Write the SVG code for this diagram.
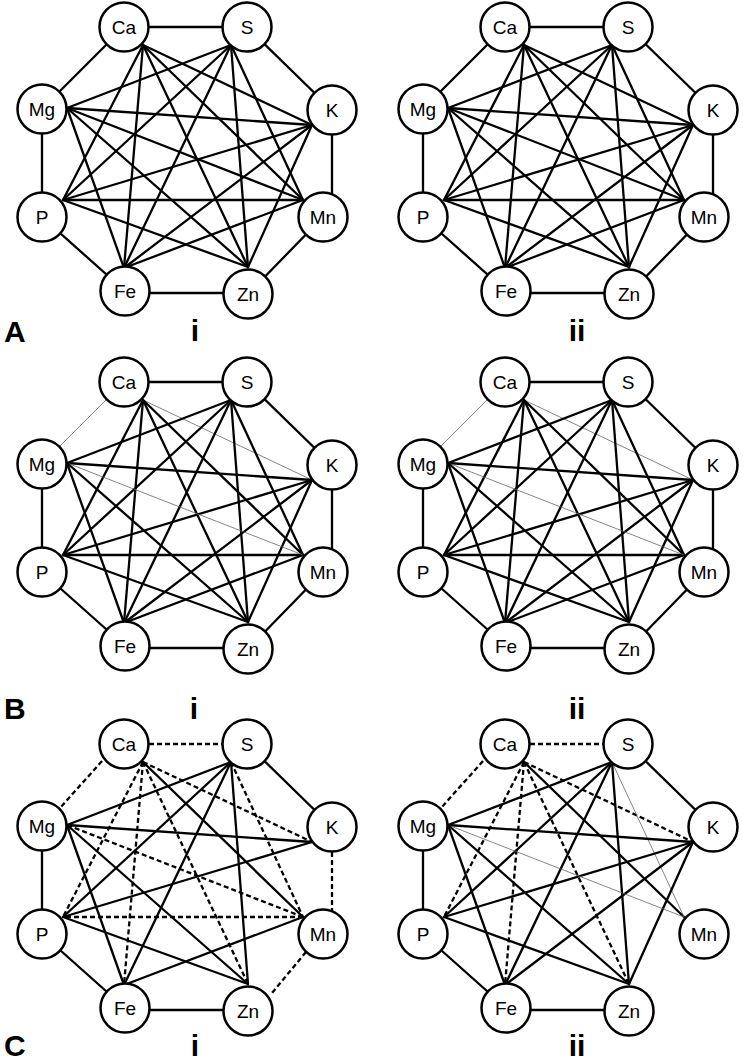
<svg xmlns="http://www.w3.org/2000/svg" width="743" height="1063" viewBox="0 0 743 1063">
<style>
.e{stroke:#000;stroke-width:2.3;fill:none;stroke-linecap:round}
.d{stroke-dasharray:5 3;stroke-linecap:butt}
.t{stroke:#666;stroke-width:0.8}
.n circle{fill:#fff;stroke:#000;stroke-width:2.5}
.n text{font-family:"Liberation Sans",Arial,sans-serif;font-size:19px;text-anchor:middle;fill:#000}
.lab{font-family:"Liberation Sans",Arial,sans-serif;font-weight:bold;font-size:30px;fill:#000}
.c{text-anchor:middle}
</style>
<rect width="743" height="1063" fill="#fff"/>

<!-- ===== A-i ===== -->
<g id="Ai" transform="translate(0,0)">
<g id="Ai-connectors">
<path class="e" d="M124 27L247 27"/><path class="e" d="M247 27L332 110"/><path class="e" d="M332 110L332 217"/><path class="e" d="M323 217L248 294"/><path class="e" d="M248 293L125 293"/><path class="e" d="M125 291L42 217"/><path class="e" d="M42 109L42 217"/><path class="e" d="M42 109L124 27"/>
<path class="e" d="M143 45L312 125"/><path class="e" d="M143 45L303 200"/><path class="e" d="M143 45L248 267"/><path class="e" d="M143 45L124 268"/><path class="e" d="M143 45L63 200"/>
<path class="e" d="M231 45L303 200"/><path class="e" d="M231 45L248 267"/><path class="e" d="M231 45L124 268"/><path class="e" d="M231 45L63 200"/><path class="e" d="M231 45L67 108"/>
<path class="e" d="M312 125L248 267"/><path class="e" d="M312 125L124 268"/><path class="e" d="M312 125L63 200"/><path class="e" d="M312 125L67 108"/>
<path class="e" d="M303 200L124 268"/><path class="e" d="M303 200L63 200"/><path class="e" d="M303 200L67 108"/>
<path class="e" d="M248 267L63 200"/><path class="e" d="M248 267L67 108"/><path class="e" d="M124 268L67 108"/>
</g>
<g id="Ai-Ca" class="n"><circle cx="124" cy="27" r="24.5"/><text x="124" y="34">Ca</text></g>
<g id="Ai-S" class="n"><circle cx="247" cy="27" r="24.5"/><text x="247" y="34">S</text></g>
<g id="Ai-Mg" class="n"><circle cx="42" cy="109" r="24.5"/><text x="42" y="116">Mg</text></g>
<g id="Ai-K" class="n"><circle cx="332" cy="110" r="24.5"/><text x="332" y="117">K</text></g>
<g id="Ai-P" class="n"><circle cx="42" cy="217" r="24.5"/><text x="42" y="224">P</text></g>
<g id="Ai-Mn" class="n"><circle cx="323" cy="217" r="24.5"/><text x="323" y="224">Mn</text></g>
<g id="Ai-Fe" class="n"><circle cx="125" cy="291" r="24.5"/><text x="125" y="298">Fe</text></g>
<g id="Ai-Zn" class="n"><circle cx="248" cy="294" r="24.5"/><text x="248" y="301">Zn</text></g>
</g>

<!-- ===== A-ii ===== -->
<g id="Aii" transform="translate(381,0)">
<g id="Aii-connectors">
<path class="e" d="M124 27L247 27"/><path class="e" d="M247 27L332 110"/><path class="e" d="M332 110L332 217"/><path class="e" d="M323 217L248 294"/><path class="e" d="M248 293L125 293"/><path class="e" d="M125 291L42 217"/><path class="e" d="M42 109L42 217"/><path class="e" d="M42 109L124 27"/>
<path class="e" d="M143 45L312 125"/><path class="e" d="M143 45L303 200"/><path class="e" d="M143 45L248 267"/><path class="e" d="M143 45L124 268"/><path class="e" d="M143 45L63 200"/>
<path class="e" d="M231 45L303 200"/><path class="e" d="M231 45L248 267"/><path class="e" d="M231 45L124 268"/><path class="e" d="M231 45L63 200"/><path class="e" d="M231 45L67 108"/>
<path class="e" d="M312 125L248 267"/><path class="e" d="M312 125L124 268"/><path class="e" d="M312 125L63 200"/><path class="e" d="M312 125L67 108"/>
<path class="e" d="M303 200L124 268"/><path class="e" d="M303 200L63 200"/><path class="e" d="M303 200L67 108"/>
<path class="e" d="M248 267L63 200"/><path class="e" d="M248 267L67 108"/><path class="e" d="M124 268L67 108"/>
</g>
<g id="Aii-Ca" class="n"><circle cx="124" cy="27" r="24.5"/><text x="124" y="34">Ca</text></g>
<g id="Aii-S" class="n"><circle cx="247" cy="27" r="24.5"/><text x="247" y="34">S</text></g>
<g id="Aii-Mg" class="n"><circle cx="42" cy="109" r="24.5"/><text x="42" y="116">Mg</text></g>
<g id="Aii-K" class="n"><circle cx="332" cy="110" r="24.5"/><text x="332" y="117">K</text></g>
<g id="Aii-P" class="n"><circle cx="42" cy="217" r="24.5"/><text x="42" y="224">P</text></g>
<g id="Aii-Mn" class="n"><circle cx="323" cy="217" r="24.5"/><text x="323" y="224">Mn</text></g>
<g id="Aii-Fe" class="n"><circle cx="125" cy="291" r="24.5"/><text x="125" y="298">Fe</text></g>
<g id="Aii-Zn" class="n"><circle cx="248" cy="294" r="24.5"/><text x="248" y="301">Zn</text></g>
</g>

<!-- ===== B-i ===== -->
<g id="Bi" transform="translate(0,355)">
<g id="Bi-connectors">
<path class="e" d="M124 27L247 27"/><path class="e" d="M247 27L332 110"/><path class="e" d="M332 110L332 217"/><path class="e" d="M323 217L248 294"/><path class="e" d="M248 293L125 293"/><path class="e" d="M125 291L42 217"/><path class="e" d="M42 109L42 217"/><path class="e t" d="M42 109L124 27"/>
<path class="e t" d="M143 45L312 125"/><path class="e" d="M143 45L303 200"/><path class="e" d="M143 45L248 267"/><path class="e" d="M143 45L124 268"/><path class="e" d="M143 45L63 200"/>
<path class="e" d="M231 45L303 200"/><path class="e" d="M231 45L248 267"/><path class="e" d="M231 45L124 268"/><path class="e" d="M231 45L63 200"/><path class="e" d="M231 45L67 108"/>
<path class="e" d="M312 125L248 267"/><path class="e" d="M312 125L124 268"/><path class="e" d="M312 125L63 200"/><path class="e" d="M312 125L67 108"/>
<path class="e" d="M303 200L124 268"/><path class="e" d="M303 200L63 200"/><path class="e t" d="M303 200L67 108"/>
<path class="e" d="M248 267L63 200"/><path class="e" d="M248 267L67 108"/><path class="e" d="M124 268L67 108"/>
</g>
<g id="Bi-Ca" class="n"><circle cx="124" cy="27" r="24.5"/><text x="124" y="34">Ca</text></g>
<g id="Bi-S" class="n"><circle cx="247" cy="27" r="24.5"/><text x="247" y="34">S</text></g>
<g id="Bi-Mg" class="n"><circle cx="42" cy="109" r="24.5"/><text x="42" y="116">Mg</text></g>
<g id="Bi-K" class="n"><circle cx="332" cy="110" r="24.5"/><text x="332" y="117">K</text></g>
<g id="Bi-P" class="n"><circle cx="42" cy="217" r="24.5"/><text x="42" y="224">P</text></g>
<g id="Bi-Mn" class="n"><circle cx="323" cy="217" r="24.5"/><text x="323" y="224">Mn</text></g>
<g id="Bi-Fe" class="n"><circle cx="125" cy="291" r="24.5"/><text x="125" y="298">Fe</text></g>
<g id="Bi-Zn" class="n"><circle cx="248" cy="294" r="24.5"/><text x="248" y="301">Zn</text></g>
</g>

<!-- ===== B-ii ===== -->
<g id="Bii" transform="translate(381,355)">
<g id="Bii-connectors">
<path class="e" d="M124 27L247 27"/><path class="e" d="M247 27L332 110"/><path class="e" d="M332 110L332 217"/><path class="e" d="M323 217L248 294"/><path class="e" d="M248 293L125 293"/><path class="e" d="M125 291L42 217"/><path class="e" d="M42 109L42 217"/><path class="e t" d="M42 109L124 27"/>
<path class="e t" d="M143 45L312 125"/><path class="e" d="M143 45L303 200"/><path class="e" d="M143 45L248 267"/><path class="e" d="M143 45L124 268"/><path class="e" d="M143 45L63 200"/>
<path class="e" d="M231 45L303 200"/><path class="e" d="M231 45L248 267"/><path class="e" d="M231 45L124 268"/><path class="e" d="M231 45L63 200"/><path class="e" d="M231 45L67 108"/>
<path class="e" d="M312 125L248 267"/><path class="e" d="M312 125L124 268"/><path class="e" d="M312 125L63 200"/><path class="e" d="M312 125L67 108"/>
<path class="e" d="M303 200L124 268"/><path class="e" d="M303 200L63 200"/><path class="e t" d="M303 200L67 108"/>
<path class="e" d="M248 267L63 200"/><path class="e" d="M248 267L67 108"/><path class="e" d="M124 268L67 108"/>
</g>
<g id="Bii-Ca" class="n"><circle cx="124" cy="27" r="24.5"/><text x="124" y="34">Ca</text></g>
<g id="Bii-S" class="n"><circle cx="247" cy="27" r="24.5"/><text x="247" y="34">S</text></g>
<g id="Bii-Mg" class="n"><circle cx="42" cy="109" r="24.5"/><text x="42" y="116">Mg</text></g>
<g id="Bii-K" class="n"><circle cx="332" cy="110" r="24.5"/><text x="332" y="117">K</text></g>
<g id="Bii-P" class="n"><circle cx="42" cy="217" r="24.5"/><text x="42" y="224">P</text></g>
<g id="Bii-Mn" class="n"><circle cx="323" cy="217" r="24.5"/><text x="323" y="224">Mn</text></g>
<g id="Bii-Fe" class="n"><circle cx="125" cy="291" r="24.5"/><text x="125" y="298">Fe</text></g>
<g id="Bii-Zn" class="n"><circle cx="248" cy="294" r="24.5"/><text x="248" y="301">Zn</text></g>
</g>

<!-- ===== C-i ===== -->
<g id="Ci" transform="translate(0,717)">
<g id="Ci-connectors">
<path class="e d" d="M149 27L223 27"/><path class="e" d="M247 27L332 110"/><path class="e d" d="M332 135L332 194"/><path class="e d" d="M306 235L272 276"/><path class="e" d="M248 293L125 293"/><path class="e" d="M125 291L42 217"/><path class="e" d="M42 109L42 217"/><path class="e d" d="M102 44L60 91"/>
<path class="e d" d="M143 45L312 125"/><path class="e" d="M143 45L303 200"/><path class="e d" d="M143 45L248 267"/><path class="e d" d="M143 45L124 268"/><path class="e d" d="M143 45L63 200"/>
<path class="e d" d="M231 45L303 200"/><path class="e" d="M231 45L248 267"/><path class="e" d="M231 45L124 268"/><path class="e" d="M231 45L63 200"/><path class="e" d="M231 45L67 108"/>
<path class="e" d="M312 125L63 200"/><path class="e" d="M312 125L67 108"/>
<path class="e" d="M303 200L124 268"/><path class="e d" d="M303 200L63 200"/><path class="e d" d="M303 200L67 108"/>
<path class="e" d="M248 267L63 200"/><path class="e" d="M248 267L67 108"/><path class="e" d="M124 268L67 108"/>
</g>
<g id="Ci-Ca" class="n"><circle cx="124" cy="27" r="24.5"/><text x="124" y="34">Ca</text></g>
<g id="Ci-S" class="n"><circle cx="247" cy="27" r="24.5"/><text x="247" y="34">S</text></g>
<g id="Ci-Mg" class="n"><circle cx="42" cy="109" r="24.5"/><text x="42" y="116">Mg</text></g>
<g id="Ci-K" class="n"><circle cx="332" cy="110" r="24.5"/><text x="332" y="117">K</text></g>
<g id="Ci-P" class="n"><circle cx="42" cy="217" r="24.5"/><text x="42" y="224">P</text></g>
<g id="Ci-Mn" class="n"><circle cx="323" cy="217" r="24.5"/><text x="323" y="224">Mn</text></g>
<g id="Ci-Fe" class="n"><circle cx="125" cy="291" r="24.5"/><text x="125" y="298">Fe</text></g>
<g id="Ci-Zn" class="n"><circle cx="248" cy="294" r="24.5"/><text x="248" y="301">Zn</text></g>
</g>

<!-- ===== C-ii ===== -->
<g id="Cii" transform="translate(381,717)">
<g id="Cii-connectors">
<path class="e d" d="M149 27L223 27"/><path class="e" d="M247 27L332 110"/><path class="e" d="M248 293L125 293"/><path class="e" d="M125 291L42 217"/><path class="e" d="M42 109L42 217"/><path class="e d" d="M102 44L60 91"/>
<path class="e d" d="M143 45L312 125"/><path class="e" d="M143 45L303 200"/><path class="e d" d="M143 45L248 267"/><path class="e d" d="M143 45L124 268"/><path class="e d" d="M143 45L63 200"/>
<path class="e t" d="M231 45L303 200"/><path class="e" d="M231 45L248 267"/><path class="e" d="M231 45L124 268"/><path class="e" d="M231 45L63 200"/><path class="e" d="M231 45L67 108"/>
<path class="e" d="M312 125L248 267"/><path class="e" d="M312 125L124 268"/><path class="e" d="M312 125L63 200"/><path class="e" d="M312 125L67 108"/>
<path class="e t" d="M303 200L67 108"/>
<path class="e" d="M248 267L63 200"/><path class="e" d="M248 267L67 108"/><path class="e" d="M124 268L67 108"/>
</g>
<g id="Cii-Ca" class="n"><circle cx="124" cy="27" r="24.5"/><text x="124" y="34">Ca</text></g>
<g id="Cii-S" class="n"><circle cx="247" cy="27" r="24.5"/><text x="247" y="34">S</text></g>
<g id="Cii-Mg" class="n"><circle cx="42" cy="109" r="24.5"/><text x="42" y="116">Mg</text></g>
<g id="Cii-K" class="n"><circle cx="332" cy="110" r="24.5"/><text x="332" y="117">K</text></g>
<g id="Cii-P" class="n"><circle cx="42" cy="217" r="24.5"/><text x="42" y="224">P</text></g>
<g id="Cii-Mn" class="n"><circle cx="323" cy="217" r="24.5"/><text x="323" y="224">Mn</text></g>
<g id="Cii-Fe" class="n"><circle cx="125" cy="291" r="24.5"/><text x="125" y="298">Fe</text></g>
<g id="Cii-Zn" class="n"><circle cx="248" cy="294" r="24.5"/><text x="248" y="301">Zn</text></g>
</g>

<!-- ===== panel labels ===== -->
<g id="labels">
<text class="lab" x="4" y="342">A</text>
<text class="lab c" x="195" y="341">i</text>
<text class="lab c" x="577" y="341">ii</text>
<text class="lab" x="4" y="719">B</text>
<text class="lab c" x="194" y="719">i</text>
<text class="lab c" x="577" y="719">ii</text>
<text class="lab" x="4" y="1056">C</text>
<text class="lab c" x="195" y="1056">i</text>
<text class="lab c" x="577" y="1056">ii</text>
</g>
</svg>
